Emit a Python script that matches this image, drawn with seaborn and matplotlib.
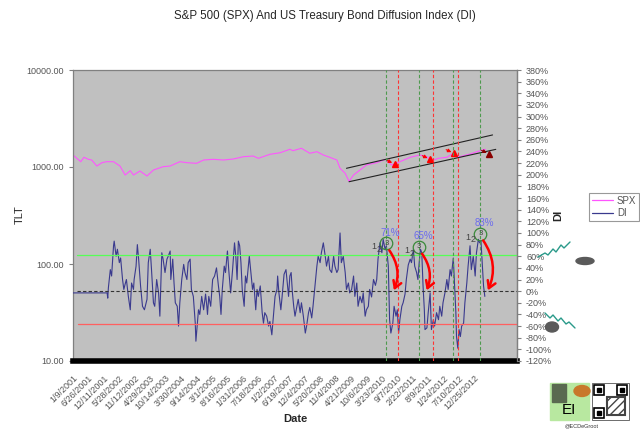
import matplotlib
matplotlib.use("Agg")
import matplotlib.pyplot as plt
from matplotlib.lines import Line2D
from matplotlib.patches import Rectangle, Circle, Ellipse
import seaborn as sns

# weekly category axis, week 0 = 1/9/2001, one label every 24 weeks
tick_labels = ["1/9/2001", "6/26/2001", "12/11/2001", "5/28/2002", "11/12/2002",
               "4/29/2003", "10/14/2003", "3/30/2004", "9/14/2004", "3/1/2005",
               "8/16/2005", "1/31/2006", "7/18/2006", "1/2/2007", "6/19/2007",
               "12/4/2007", "5/20/2008", "11/4/2008", "4/21/2009", "10/6/2009",
               "3/23/2010", "9/7/2010", "2/22/2011", "8/9/2011", "1/24/2012",
               "7/10/2012", "12/25/2012"]
tick_weeks = [24 * i for i in range(len(tick_labels))]

# SPX (left, log axis)
spx_week = [0, 6, 12, 17, 24, 29, 37, 45, 52, 63, 73, 81, 89, 94, 104, 115, 125,
            140, 151, 166, 177, 192, 203, 218, 234, 249, 265, 280, 288, 306, 322,
            337, 342, 355, 368, 379, 389, 399, 410, 415, 423, 429, 436, 446, 456,
            472, 485, 495, 508, 524, 539, 550, 557, 568, 581, 591, 601, 617, 633, 641]
spx_value = [1330, 1229, 1134, 1259, 1200, 1181, 1024, 1108, 1134, 1134, 1024, 827,
             916, 827, 909, 808, 931, 1007, 1024, 1134, 1108, 1091, 1181, 1200, 1181,
             1209, 1277, 1298, 1229, 1351, 1404, 1522, 1474, 1559, 1385, 1438, 1330,
             1259, 1181, 970, 861, 710, 827, 931, 1049, 1108, 1200, 1049, 1134, 1259,
             1330, 1277, 1161, 1229, 1259, 1385, 1277, 1362, 1474, 1522]

# Diffusion index (right axis, %)
di_week = [0, 53, 54, 55, 58, 60, 63, 64, 67, 69, 72, 74, 77, 79, 81, 83, 86, 89, 91,
           94, 95, 98, 100, 102, 105, 108, 111, 115, 117, 120, 122, 125, 127, 130, 133,
           135, 138, 140, 143, 146, 148, 151, 152, 155, 157, 159, 162, 164, 166, 169,
           172, 174, 177, 179, 182, 184, 187, 190, 191, 193, 195, 197, 200, 203, 206,
           208, 209, 211, 214, 217, 220, 223, 226, 228, 230, 232, 235, 237, 240, 242,
           245, 248, 251, 253, 255, 257, 259, 261, 263, 266, 268, 270, 274, 276, 279,
           281, 284, 286, 288, 291, 294, 296, 298, 301, 304, 306, 309, 311, 314, 317,
           318, 320, 323, 325, 328, 331, 333, 335, 337, 339, 341, 343, 345, 348, 350,
           353, 355, 358, 361, 363, 366, 368, 371, 373, 376, 379, 381, 384, 386, 389,
           392, 394, 397, 399, 402, 405, 407, 410, 412, 415, 417, 420, 423, 425, 428,
           430, 433, 436, 438, 441, 443, 446, 449, 451, 454, 456, 459, 461, 464, 467,
           470, 472, 474, 477, 480, 482, 485, 487, 490, 492, 494, 497, 499, 502, 504,
           506, 508, 511, 513, 516, 518, 521, 524, 526, 529, 531, 534, 536, 538, 540,
           542, 544, 546, 547, 550, 552, 555, 557, 560, 562, 565, 568, 570, 573, 575,
           578, 581, 583, 586, 588, 591, 593, 595, 596, 598, 600, 602, 604, 607, 609,
           612, 614, 617, 619, 622, 625, 627, 630, 632, 634, 636, 638, 640]
di_value = [-3, -3, -12, 6, 37, 26, 78, 86, 60, 72, 49, 57, 20, 3, 12, 20, -9, -32, 14,
            3, 20, 43, 80, 55, 9, -26, -32, -14, 49, 72, 37, -20, -26, 20, -3,
            -43, 66, 55, 32, 55, 60, 69, 20, 55, 14, -20, -26, -60, -20, 20,
            46, 32, 20, 49, 55, 3, -9, -55, -86, -60, -32, -40, -9, -32, -5,
            -26, -40, -9, -26, 20, 26, 40, 9, -9, -40, 3, 43, 32, 69, 37,
            -3, 37, 83, 60, 20, 86, 78, 49, 3, -26, 26, 14, 60, 37, 3,
            14, -32, 3, -9, 9, -37, -55, -37, -43, -60, -52, -75, -49, -9, 3,
            26, -3, -32, -9, 29, 37, 14, -9, 26, 32, -3, -26, -43, -26, -14,
            -37, -20, -43, -72, -60, -37, -28, -46, -26, 9, 43, 60, 49, 66, 83,
            60, 43, 60, 37, 32, 60, 43, 32, 37, 100, 49, 60, 32, 3, 14,
            -3, 3, 26, -9, 14, -26, -9, -20, -3, -43, -32, -26, 3, -10, 20,
            10, 20, 55, 83, 66, 89, 72, 78, 43, -49, -72, -55, -26, -43, -32,
            -72, -49, -26, -20, -5, 20, 45, 55, 49, 72, 43, 32, 20, 49, 72,
            66, 9, -32, -66, -63, -37, -3, -66, -49, -60, -37, -49, -26, -43, -20,
            -3, 20, 3, 37, 26, 57, 9, -37, -78, -98, -66, -78, -60, -55, -20,
            14, 43, 78, 37, 60, 26, 66, 89, 83, 86, 49, 9, -9]

di_upper = 62
di_lower = -57

# signal dates (weeks)
green_signal_weeks = [486, 538, 590, 633]
red_signal_weeks = [505, 559, 599]

# wave-3 peaks: week, DI, percent label
peak_weeks = [487, 538, 633]
peak_di = [82, 76, 99]
peak_pct = ["71%", "65%", "83%"]

# SPX channel (week, value) end points
channel_upper = ([425, 652], [970, 2140])
channel_lower = ([429, 657], [705, 1520])

# SPX sell marks
mark_weeks = [500, 555, 592, 647]
mark_values = [1074, 1200, 1384, 1362]

spx_color = "#FF55FF"
di_color = "#3A3A8E"
tick_color = "#555555"

sns.set_style("white")
plt.rcParams["font.family"] = ["Liberation Sans", "DejaVu Sans"]

W, H = 640, 438
fig = plt.figure(figsize=(6.4, 4.38), dpi=100)
ax = fig.add_axes([73 / W, 1 - 361 / H, 444 / W, 291 / H])
ax.set_facecolor("#C0C0C0")
ax2 = ax.twinx()

sns.lineplot(x=spx_week, y=spx_value, ax=ax, color=spx_color, linewidth=0.8,
             sort=False, estimator=None, legend=False)
ax.set_yscale("log")
ax.set_ylim(10, 10000)
ax.set_xlim(0, 690)

sns.lineplot(x=di_week, y=di_value, ax=ax2, color=di_color, linewidth=0.8,
             sort=False, estimator=None, legend=False)
ax2.set_ylim(-120, 380)
ax2.set_xlim(0, 690)

# reference levels
ax2.axhline(di_upper, xmin=0.008, color="#55FF55", lw=0.9)
ax2.axhline(di_lower, xmin=0.012, color="#FF6060", lw=0.9)
ax2.axhline(0, xmin=0.01, color="#333333", lw=0.8, ls=(0, (3, 2)))

for w in green_signal_weeks:
    ax2.axvline(w, color="#4E9A4E", lw=0.8, ls=(0, (3, 2)))
for w in red_signal_weeks:
    ax2.axvline(w, color="#FF3333", lw=0.8, ls=(0, (3, 2)))

# channel on SPX
ax.plot(*channel_upper, color="#222222", lw=0.8)
ax.plot(*channel_lower, color="#222222", lw=0.8)
for w, v, c in zip(mark_weeks, mark_values, ["red", "red", "red", "#8B0000"]):
    ax.plot(w, v, marker="^", color=c, markersize=4.5, ls="none")
    ax.annotate("", xy=(w, v), xytext=(w - 16, v * 1.12),
                arrowprops=dict(arrowstyle="-|>", color=c, lw=0.8,
                                mutation_scale=5))

# wave labels
for w, d, p in zip(peak_weeks, peak_di, peak_pct):
    ax2.plot(w, d, marker="o", markersize=9, markerfacecolor="none",
             markeredgecolor="#3A8A3A", markeredgewidth=0.9, ls="none")
    ax2.text(w, d, "3", ha="center", va="center", fontsize=5.5, color="#444444")
    ax2.text(w - 19, d - 6, "1", ha="center", va="center", fontsize=6.5,
             color="#444444")
    ax2.text(w - 11, d - 11, "2", ha="center", va="center", fontsize=6.5,
             color="#444444")
    ax2.text(w + 6, d + 18, p, ha="center", va="center", fontsize=7, color="#6A6AEE")
    ax2.annotate("", xy=(w + 10, -3), xytext=(w + 2, d - 8),
                 arrowprops=dict(arrowstyle="->,head_length=0.5,head_width=0.3",
                                 color="red", lw=1.8,
                                 connectionstyle="arc3,rad=-0.3"))

# axes styling
for a in (ax, ax2):
    for s in a.spines.values():
        s.set_color("#808080")
        s.set_linewidth(0.9)
ax2.spines["bottom"].set_visible(False)
ax2.spines["left"].set_visible(False)
ax2.spines["top"].set_visible(False)
ax.spines["bottom"].set_color("black")
ax.spines["bottom"].set_linewidth(4)

ax.set_yticks([10, 100, 1000, 10000])
ax.set_yticklabels(["10.00", "100.00", "1000.00", "10000.00"])
ax.yaxis.set_minor_locator(plt.NullLocator())
ax.set_xticks(tick_weeks)
ax.set_xticklabels(tick_labels, rotation=45, ha="right", rotation_mode="anchor")
ax.tick_params(axis="both", colors="#808080", labelcolor=tick_color, labelsize=6.5,
               length=3, width=0.8, direction="out")
ax.tick_params(axis="x", pad=6)
ax.tick_params(axis="y", left=True)

ax2.set_yticks(list(range(-120, 381, 20)))
ax2.set_yticklabels([f"{t}%" for t in range(-120, 381, 20)])
ax2.tick_params(axis="y", colors="#808080", labelcolor=tick_color, labelsize=6.5,
                length=3, width=0.8, direction="out", right=True)
ax.set_xlabel(None)
ax.set_ylabel(None)
ax2.set_ylabel(None)

def fx(x):
    return x / W

def fy(y):
    return 1 - y / H

fig.text(fx(325), fy(16), "S&P 500 (SPX) And US Treasury Bond Diffusion Index (DI)",
         ha="center", va="center", fontsize=8.3)
fig.text(fx(20), fy(215), "TLT", rotation=90, ha="center", va="center", fontsize=8)
fig.text(fx(558), fy(215), "DI", rotation=90, ha="center", va="center", fontsize=8,
         fontweight="bold")
fig.text(fx(295), fy(419), "Date", ha="center", va="center", fontsize=8,
         fontweight="bold")

# legend
handles = [Line2D([], [], color=spx_color, lw=0.9), Line2D([], [], color=di_color, lw=0.9)]
leg = fig.legend(handles, ["SPX", "DI"], loc="center", bbox_to_anchor=(fx(614), fy(207)),
                 fontsize=7, frameon=True, fancybox=False, handlelength=2.2,
                 borderpad=0.3, labelspacing=0.3, handletextpad=0.4)
leg.get_frame().set_edgecolor("#808080")
leg.get_frame().set_linewidth(0.8)
for t in leg.get_texts():
    t.set_color(tick_color)

# bull / bear decorations
bull = [(538, 257), (545, 253), (548, 255), (553, 249), (556, 252), (561, 245),
        (564, 248), (570, 242)]
bear = [(545, 313), (550, 318), (553, 315), (558, 321), (561, 318), (566, 324),
        (569, 322), (575, 328)]
for pts in (bull, bear):
    fig.add_artist(Line2D([fx(p[0]) for p in pts], [fy(p[1]) for p in pts],
                          color="#2A9A8A", lw=1.0))
fig.add_artist(Ellipse((fx(585), fy(261)), 18 / W, 7 / H, color="#5A5A5A"))
fig.add_artist(Ellipse((fx(552), fy(327)), 13 / W, 10 / H, color="#5A5A5A"))

# logo
fig.add_artist(Rectangle((fx(550), fy(420)), 39 / W, 37 / H, color="#B8E8A0"))
fig.add_artist(Rectangle((fx(552), fy(402)), 14 / W, 18 / H, color="#5A6A50"))
fig.add_artist(Circle((fx(582), fy(391)), 8 / W, color="#C8782A"))
fig.text(fx(569), fy(410), "EI", ha="center", va="center", fontsize=11, color="black")
fig.add_artist(Rectangle((fx(592), fy(420)), 37 / W, 37 / H, facecolor="white",
                         edgecolor="#333333", lw=0.5))
for qx, qy in [(594, 385), (617, 385), (594, 408)]:
    fig.add_artist(Rectangle((fx(qx), fy(qy + 10)), 10 / W, 10 / H, facecolor="none",
                             edgecolor="black", lw=1.2))
    fig.add_artist(Rectangle((fx(qx + 3), fy(qy + 7)), 4 / W, 4 / H, color="black"))
fig.add_artist(Rectangle((fx(607), fy(415)), 18 / W, 18 / H, facecolor="none",
                         edgecolor="#444444", lw=1.5, hatch="////"))
fig.text(fx(582), fy(426), "@ECDeGroot", ha="center", va="center", fontsize=4,
         color="#333333")

fig.savefig("out.png", dpi=100)
